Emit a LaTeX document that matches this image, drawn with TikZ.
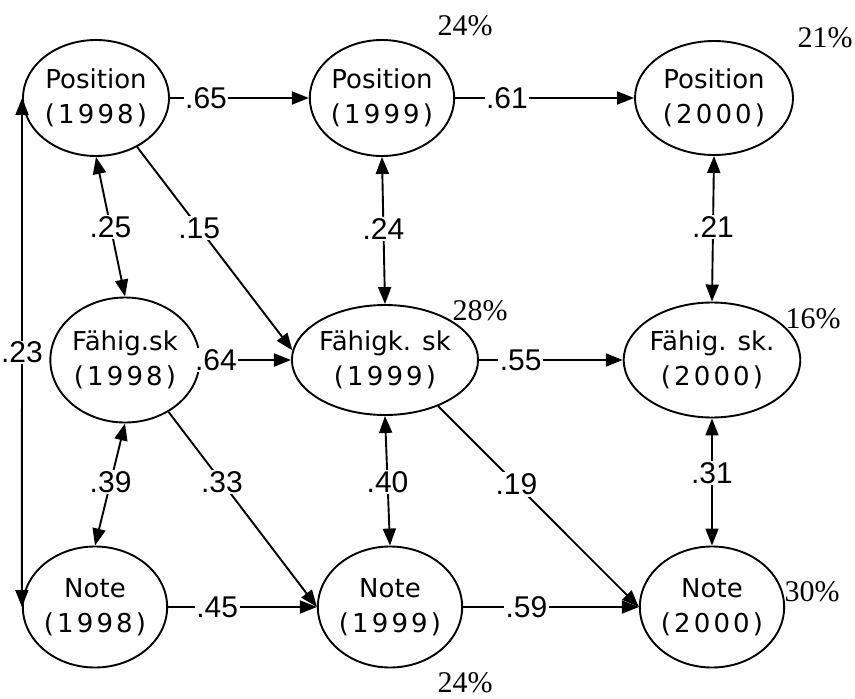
\documentclass[tikz,border=0pt]{standalone}
\usepackage{fontspec}
\setmainfont{Liberation Sans}
\newfontfamily\nodefont{DejaVu Sans}
\newfontfamily\yearfont[LetterSpace=12]{DejaVu Sans}
\newfontfamily\pctfont{Liberation Serif}
\usetikzlibrary{shapes.geometric,arrows.meta}
\begin{document}
\begin{tikzpicture}[x=1pt,y=-1pt]
\tikzset{
 var/.style={draw, ellipse, line width=1.9pt, inner sep=0pt, align=center,
   font=\nodefont\fontsize{26}{35}\selectfont},
 conn/.style={line width=1.9pt, -{Triangle[length=17pt,width=13pt]}},
 biconn/.style={line width=1.9pt, {Triangle[length=17pt,width=13pt]}-{Triangle[length=17pt,width=13pt]}},
 coef/.style={fill=white, inner sep=1.5pt, font=\fontsize{30}{33}\selectfont},
 pct/.style={anchor=base, inner sep=0pt, font=\pctfont\fontsize{30}{33}\selectfont},
}
\useasboundingbox (0,0) rectangle (855,699);

% nodes
\node[var, minimum width=146pt, minimum height=116pt] (P98) at (96,98)  {Position\\{\yearfont(1998)}};
\node[var, minimum width=130pt, minimum height=116pt] (P99) at (382,98) {Position\\{\yearfont(1999)}};
\node[var, minimum width=158pt, minimum height=114pt] (P00) at (714,98) {Position\\{\yearfont(2000)}};
\node[var, minimum width=146pt, minimum height=125pt] (F98) at (125,360) {F\"ahig.sk\\{\yearfont(1998)}};
\node[var, minimum width=156pt, minimum height=110pt] (F99) at (385,360) {F\"ahigk. sk\\{\yearfont(1999)}};
\node[var, minimum width=148pt, minimum height=115pt] (F00) at (712,360) {F\"ahig. sk.\\{\yearfont(2000)}};
\node[var, minimum width=121pt, minimum height=121pt] (N98) at (95,607)  {Note\\{\yearfont(1998)}};
\node[var, minimum width=118pt, minimum height=121pt] (N99) at (390,607) {Note\\{\yearfont(1999)}};
\node[var, minimum width=120pt, minimum height=121pt] (N00) at (712,607) {Note\\{\yearfont(2000)}};

% percentages
\node[pct] (r1) at (465,35)  {24\%};
\node[pct] (r2) at (825,47)  {21\%};
\node[pct] (r3) at (480,320) {28\%};
\node[pct] (r4) at (813,328) {16\%};
\node[pct] (r5) at (812,601) {30\%};
\node[pct] (r6) at (465,692) {24\%};

% horizontal paths
\draw[conn] (P98.east) -- node[coef, pos=0.26] {.65} (P99.west);
\draw[conn] (P99.east) -- node[coef, pos=0.29] {.61} (P00.west);
\draw[conn] (F98.east) -- node[coef, pos=0.17] {.64} (F99.west);
\draw[conn] (F99.east) -- node[coef, pos=0.29] {.55} (F00.west);
\draw[conn] (N98.east) -- node[coef, pos=0.33] {.45} (N99.west);
\draw[conn] (N99.east) -- node[coef, pos=0.36] {.59} (N00.west);

% diagonal paths
\draw[conn] (P98.-50) -- node[coef, pos=0.40] {.15} (F99.174);
\draw[conn] (F98.-50) -- node[coef, pos=0.36] {.33} (N99.west);
\draw[conn] (F99.-41) -- node[coef, pos=0.39] {.19} (N00.west);

% correlations
\draw[biconn] (P98.south) -- node[coef, pos=0.50] {.25} (F98.north);
\draw[biconn] (P99.south) -- node[coef, pos=0.49] {.24} (F99.north);
\draw[biconn] (P00.south) -- node[coef, pos=0.49] {.21} (F00.north);
\draw[biconn] (F98.south) -- node[coef, pos=0.48] {.39} (N98.north);
\draw[biconn] (F99.south) -- node[coef, pos=0.51] {.40} (N99.north);
\draw[biconn] (F00.south) -- node[coef, pos=0.43] {.31} (N00.north);
\draw[biconn] (P98.west) -- node[coef, pos=0.50, inner sep=0.5pt] {.23} (N98.west);
\end{tikzpicture}
\end{document}
